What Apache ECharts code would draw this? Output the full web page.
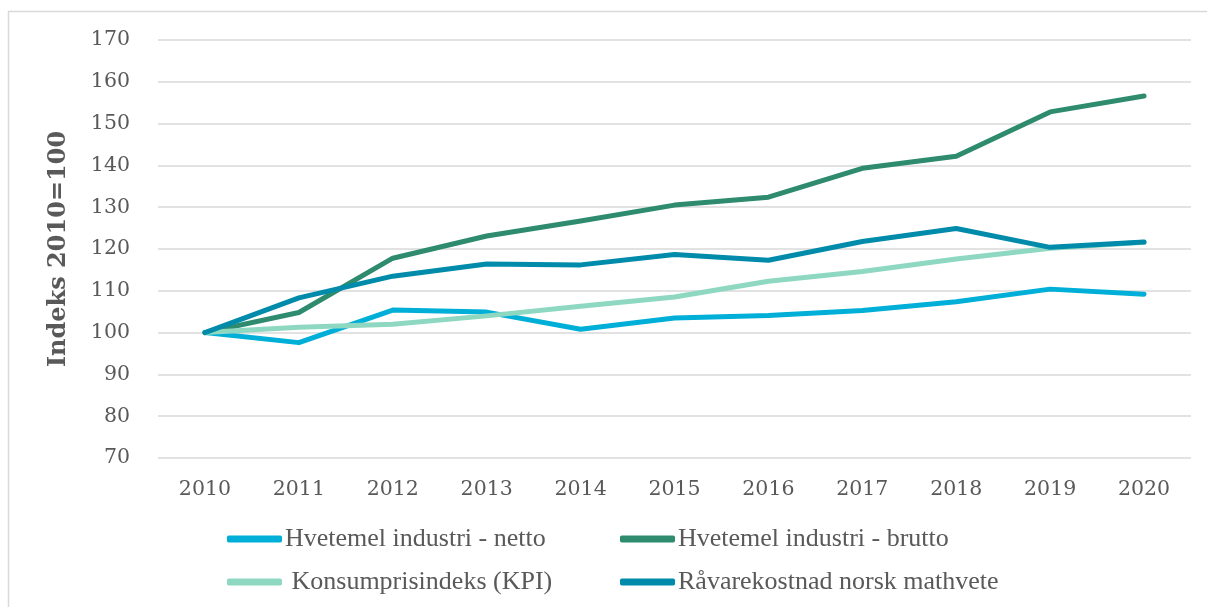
<!DOCTYPE html>
<html>
<head>
<meta charset="utf-8">
<script src="https://cdn.jsdelivr.net/npm/echarts@6/dist/echarts.min.js"></script>
<style>
  html, body { margin: 0; padding: 0; background: #fff; }
  #chart { width: 1207px; height: 607px; }
</style>
</head>
<body>
<div id="chart"></div>
<script>
// data
const years = ['2010', '2011', '2012', '2013', '2014', '2015', '2016', '2017', '2018', '2019', '2020'];
const netto = [100, 97.6, 105.4, 104.9, 100.8, 103.5, 104.1, 105.3, 107.4, 110.4, 109.2];
const brutto = [100, 104.8, 117.8, 123.1, 126.7, 130.5, 132.4, 139.3, 142.2, 152.8, 156.6];
const kpi = [100, 101.3, 102.0, 104.0, 106.3, 108.5, 112.3, 114.6, 117.6, 120.2, 121.6];
const raavare = [100, 108.3, 113.5, 116.4, 116.2, 118.7, 117.3, 121.8, 124.9, 120.4, 121.7];

const seriesNames = [
  'Hvetemel industri - netto',
  'Hvetemel industri - brutto',
  ' Konsumprisindeks (KPI)',
  'Råvarekostnad norsk mathvete'
];
const colors = ['#00AFD7', '#2E8B6E', '#8ED8C1', '#008BAA'];

const chart = echarts.init(document.getElementById('chart'));

const tickFont = { fontFamily: 'DejaVu Serif', fontSize: 20.5, color: '#595959' };

const legendPos = [
  { left: 227, top: 526 },
  { left: 620, top: 526 },
  { left: 227, top: 569 },
  { left: 620, top: 569 }
];

const lineSeries = (name, data, color) => ({
  name,
  type: 'line',
  data,
  symbol: 'none',
  smooth: false,
  lineStyle: { width: 5, color, cap: 'round', join: 'round' },
  itemStyle: { color },
  animation: false
});

const options = {
  animation: false,
  graphic: [{
    type: 'rect',
    shape: { x: 8.5, y: 11.5, width: 1220, height: 620 },
    style: { fill: 'none', stroke: '#D9D9D9', lineWidth: 1.5 },
    silent: true
  }],
  grid: { left: 158, right: 16, top: 40, bottom: 149 },
  legend: seriesNames.map((n, i) => ({
    data: [n],
    left: legendPos[i].left,
    top: legendPos[i].top,
    icon: 'roundRect',
    itemWidth: 55,
    itemHeight: 7,
    itemGap: 0,
    padding: 0,
    textStyle: { fontFamily: 'Liberation Serif', fontSize: 26, color: '#595959', padding: [0, 0, 0, -2] },
    selectedMode: false
  })),
  xAxis: {
    type: 'category',
    data: years,
    boundaryGap: true,
    axisLine: { show: false },
    axisTick: { show: false },
    axisLabel: Object.assign({ margin: 21 }, tickFont)
  },
  yAxis: {
    type: 'value',
    min: 70,
    max: 170,
    interval: 10,
    name: 'Indeks 2010=100',
    nameLocation: 'middle',
    nameGap: 87,
    nameRotate: 90,
    nameTextStyle: { fontFamily: 'DejaVu Serif', fontWeight: 'bold', fontSize: 24, color: '#595959' },
    axisLine: { show: false },
    axisTick: { show: false },
    splitLine: { lineStyle: { color: '#D9D9D9', width: 1.5 } },
    axisLabel: Object.assign({ margin: 28 }, tickFont)
  },
  series: [
    lineSeries(seriesNames[0], netto, colors[0]),
    lineSeries(seriesNames[1], brutto, colors[1]),
    lineSeries(seriesNames[2], kpi, colors[2]),
    lineSeries(seriesNames[3], raavare, colors[3])
  ]
};

chart.setOption(options);
</script>
</body>
</html>
